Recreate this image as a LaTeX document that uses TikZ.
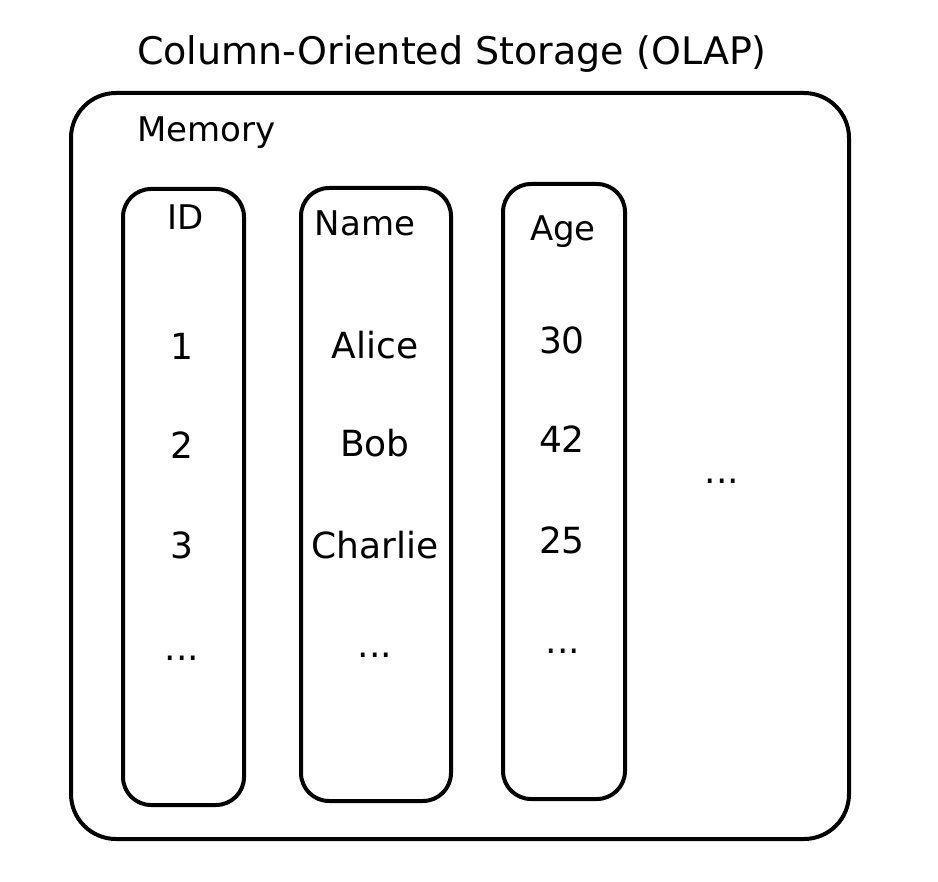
\documentclass[tikz,border=0pt]{standalone}
\usepackage{fontspec}
\setmainfont{DejaVu Sans}
\begin{document}
\begin{tikzpicture}[x=1pt,y=-1pt,
  box/.style={draw=black,line width=4pt,rounded corners=28pt},
  lbl/.style={font=\fontsize{36}{42}\selectfont,text=black,inner sep=0pt},
  hdr/.style={font=\fontsize{34}{40}\selectfont,text=black,inner sep=0pt}]
\useasboundingbox (0,0) rectangle (938,882);
\fill[white] (0,0) rectangle (938,882);
\node[font=\fontsize{38}{44}\selectfont,inner sep=0pt] (title) at (452,54) {Column-Oriented Storage (OLAP)};
\draw[box,rounded corners=45pt] (71,93) rectangle (849,839);
\node[hdr,anchor=west] (mem) at (137,133) {Memory};
\draw[box] (123,189) rectangle (244,805);
\draw[box] (301,188) rectangle (451,801);
\draw[box] (503,184) rectangle (625,799);
\node[hdr] (id) at (186,217) {ID};
\node[lbl] (i1) at (182,346) {1};
\node[lbl] (i2) at (182,445) {2};
\node[lbl] (i3) at (182,545) {3};
\node[lbl] (i4) at (182,658) {...};
\node[hdr] (nm) at (365,223) {Name};
\node[lbl] (n1) at (375,345) {Alice};
\node[lbl] (n2) at (375,443) {Bob};
\node[lbl] (n3) at (375,545) {Charlie};
\node[lbl] (n4) at (375,655) {...};
\node[hdr] (ag) at (563,232) {Age};
\node[lbl] (a1) at (562,340) {30};
\node[lbl] (a2) at (562,439) {42};
\node[lbl] (a3) at (562,540) {25};
\node[lbl] (a4) at (563,651) {...};
\node[lbl] (more) at (722,481) {...};
\end{tikzpicture}
\end{document}
